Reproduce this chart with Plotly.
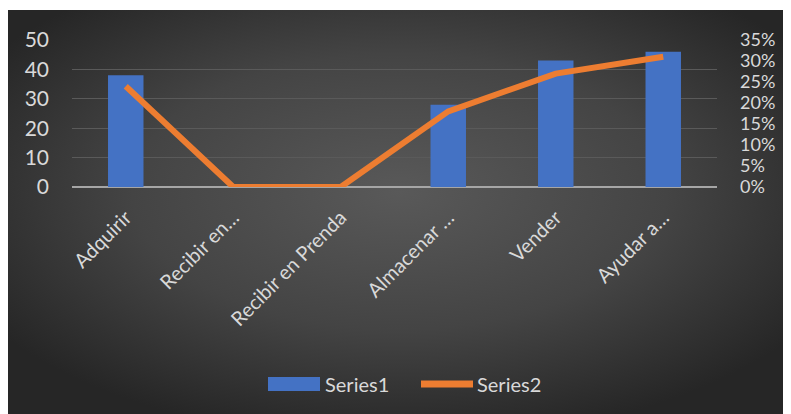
import plotly.graph_objects as go
import base64

categories = ["Adquirir", "Recibir en…", "Recibir en Prenda", "Almacenar …", "Vender", "Ayudar a…"]
series1 = [38, 0, 0, 28, 43, 46]
series2 = [0.24, 0.0, 0.0, 0.18, 0.27, 0.31]
left_ticks = [0, 10, 20, 30, 40, 50]
right_ticks = [0, 0.05, 0.10, 0.15, 0.20, 0.25, 0.30, 0.35]
series_names = ["Series1", "Series2"]
bar_color = "#4472C4"
line_color = "#ED7D31"

# figure sits inside the page body (8px body margin)
W, H = 783, 406
L, T = 64, 32
pw, ph = 645, 147
R, B = W - L - pw, H - T - ph

svg = '''<svg xmlns="http://www.w3.org/2000/svg" width="783" height="404" viewBox="0 0 783 404" preserveAspectRatio="none">
<defs><radialGradient id="g" cx="0.5" cy="0.45" r="0.62" fx="0.5" fy="0.45">
<stop offset="0" stop-color="#595959"/><stop offset="0.55" stop-color="#444444"/><stop offset="1" stop-color="#262626"/>
</radialGradient></defs><rect x="0" y="0" width="783" height="404" fill="url(#g)"/></svg>'''
uri = "data:image/svg+xml;base64," + base64.b64encode(svg.encode()).decode()

# window pixel -> paper coordinates (plot area spans window x 72..717, y 40..187)
def px_x(p):
    return (p - 72) / pw
def px_y(p):
    return (187 - p) / ph

font_col = "#d9d9d9"
FONT = "Lato"

fig = go.Figure()
fig.add_trace(go.Bar(x=categories, y=series1, name=series_names[0],
                     marker=dict(color=bar_color, line=dict(width=0)), width=0.33))
fig.add_trace(go.Scatter(x=categories, y=series2, name=series_names[1], yaxis="y2", mode="lines",
                         line=dict(color=line_color, width=6)))

shapes = [
    dict(type="rect", xref="paper", yref="paper", x0=px_x(268), x1=px_x(320),
         y0=px_y(391), y1=px_y(377), fillcolor=bar_color, line=dict(width=0)),
    dict(type="line", xref="paper", yref="paper", x0=px_x(421), x1=px_x(473),
         y0=px_y(384), y1=px_y(384), line=dict(color=line_color, width=7)),
]
annotations = [
    dict(text=series_names[0], xref="paper", yref="paper", x=px_x(323), y=px_y(384),
         xanchor="left", yanchor="middle", showarrow=False, font=dict(size=20, color=font_col)),
    dict(text=series_names[1], xref="paper", yref="paper", x=px_x(475), y=px_y(384),
         xanchor="left", yanchor="middle", showarrow=False, font=dict(size=20, color=font_col)),
]

fig.update_layout(
    width=W, height=H,
    margin=dict(l=L, r=R, t=T, b=B, autoexpand=False),
    paper_bgcolor="white", plot_bgcolor="rgba(0,0,0,0)",
    font=dict(family=FONT, color=font_col),
    showlegend=False,
    xaxis=dict(tickangle=-45, tickfont=dict(size=20, color=font_col), showgrid=False,
               showline=False, ticks="", zeroline=False, ticklabelstandoff=14),
    yaxis=dict(range=[0, 50], tickvals=left_ticks, tickfont=dict(size=21, color=font_col),
               showgrid=True, gridcolor="#5a5a5a", gridwidth=1, zeroline=True,
               zerolinecolor="#a6a6a6", zerolinewidth=2, ticks="", ticklabelstandoff=22),
    yaxis2=dict(range=[0, 0.35], tickvals=right_ticks, tickformat=".0%", overlaying="y",
                side="right", showgrid=False, zeroline=False, ticks="",
                tickfont=dict(size=18, color=font_col), ticklabelstandoff=22),
    shapes=shapes,
    annotations=annotations,
    images=[dict(source=uri, xref="paper", yref="paper", x=px_x(8), y=px_y(10),
                 sizex=783 / pw, sizey=404 / ph, sizing="stretch",
                 xanchor="left", yanchor="top", layer="below")],
)

fig.write_html("out.html")
